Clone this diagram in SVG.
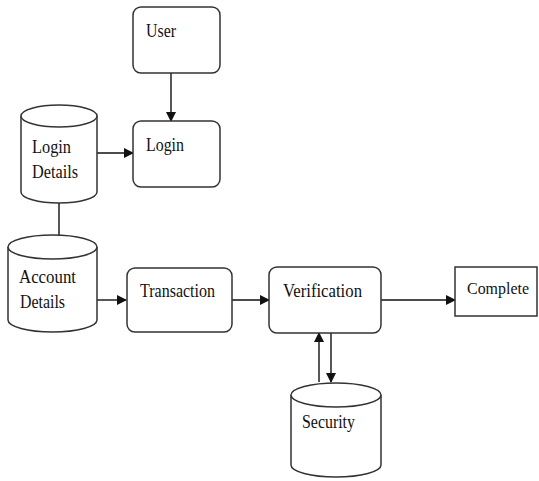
<svg xmlns="http://www.w3.org/2000/svg" width="539" height="481" viewBox="0 0 539 481">
<style>
.box{fill:#fff;stroke:#333;stroke-width:1.5}
.cyl{fill:#fff;stroke:#333;stroke-width:1.5}
.t{font-family:"Liberation Serif","Times New Roman",serif;font-size:19px;fill:#111}
.c{fill:none;stroke:#111;stroke-width:1.4}
</style>
<defs>
<marker id="ah" markerWidth="10" markerHeight="10" refX="9" refY="5" orient="auto" markerUnits="userSpaceOnUse">
<path d="M0,0 L10,5 L0,10 Z" fill="#111"/>
</marker>
</defs>
<rect width="539" height="481" fill="#fff"/>
<g id="connectors">
<line class="c" x1="171" y1="73" x2="171" y2="121" marker-end="url(#ah)"/>
<line class="c" x1="97" y1="153" x2="133" y2="153" marker-end="url(#ah)"/>
<line class="c" x1="59" y1="203" x2="59" y2="236"/>
<line class="c" x1="97" y1="300" x2="126" y2="300" marker-end="url(#ah)"/>
<line class="c" x1="232" y1="300" x2="269" y2="300" marker-end="url(#ah)"/>
<line class="c" x1="381" y1="300" x2="455" y2="300" marker-end="url(#ah)"/>
<line class="c" x1="319" y1="382" x2="319" y2="333" marker-end="url(#ah)"/>
<line class="c" x1="331" y1="333" x2="331" y2="382" marker-end="url(#ah)"/>
</g>
<g id="user">
<rect class="box" x="133" y="7" width="87" height="66" rx="8"/>
<text class="t" x="146" y="37" textLength="30" lengthAdjust="spacingAndGlyphs">User</text>
</g>
<g id="login">
<rect class="box" x="133" y="121" width="87" height="66" rx="8"/>
<text class="t" x="146" y="151" textLength="38" lengthAdjust="spacingAndGlyphs">Login</text>
</g>
<g id="login-details">
<path class="cyl" d="M21,116 V192 A38,11 0 0 0 97,192 V116"/>
<ellipse class="cyl" cx="59" cy="116" rx="38" ry="11"/>
<text class="t" x="32" y="153" textLength="39" lengthAdjust="spacingAndGlyphs">Login</text>
<text class="t" x="32" y="178" textLength="46" lengthAdjust="spacingAndGlyphs">Details</text>
</g>
<g id="account-details">
<path class="cyl" d="M8,247 V320 A44.5,12 0 0 0 97,320 V247"/>
<ellipse class="cyl" cx="52.5" cy="247" rx="44.5" ry="12"/>
<text class="t" x="19" y="283" textLength="57" lengthAdjust="spacingAndGlyphs">Account</text>
<text class="t" x="20" y="308" textLength="45" lengthAdjust="spacingAndGlyphs">Details</text>
</g>
<g id="transaction">
<rect class="box" x="127" y="268" width="105" height="64" rx="8"/>
<text class="t" x="140" y="297" textLength="75" lengthAdjust="spacingAndGlyphs">Transaction</text>
</g>
<g id="verification">
<rect class="box" x="269" y="267" width="112" height="66" rx="8"/>
<text class="t" x="283" y="297" textLength="79" lengthAdjust="spacingAndGlyphs">Verification</text>
</g>
<g id="complete">
<rect class="box" x="455" y="267" width="82" height="49"/>
<text class="t" x="467" y="294" style="font-size:17.5px" textLength="62" lengthAdjust="spacingAndGlyphs">Complete</text>
</g>
<g id="security">
<path class="cyl" d="M291,395 V465 A45,12 0 0 0 381,465 V395"/>
<ellipse class="cyl" cx="336" cy="395" rx="45" ry="12"/>
<text class="t" x="302" y="428" textLength="53" lengthAdjust="spacingAndGlyphs">Security</text>
</g>
</svg>
